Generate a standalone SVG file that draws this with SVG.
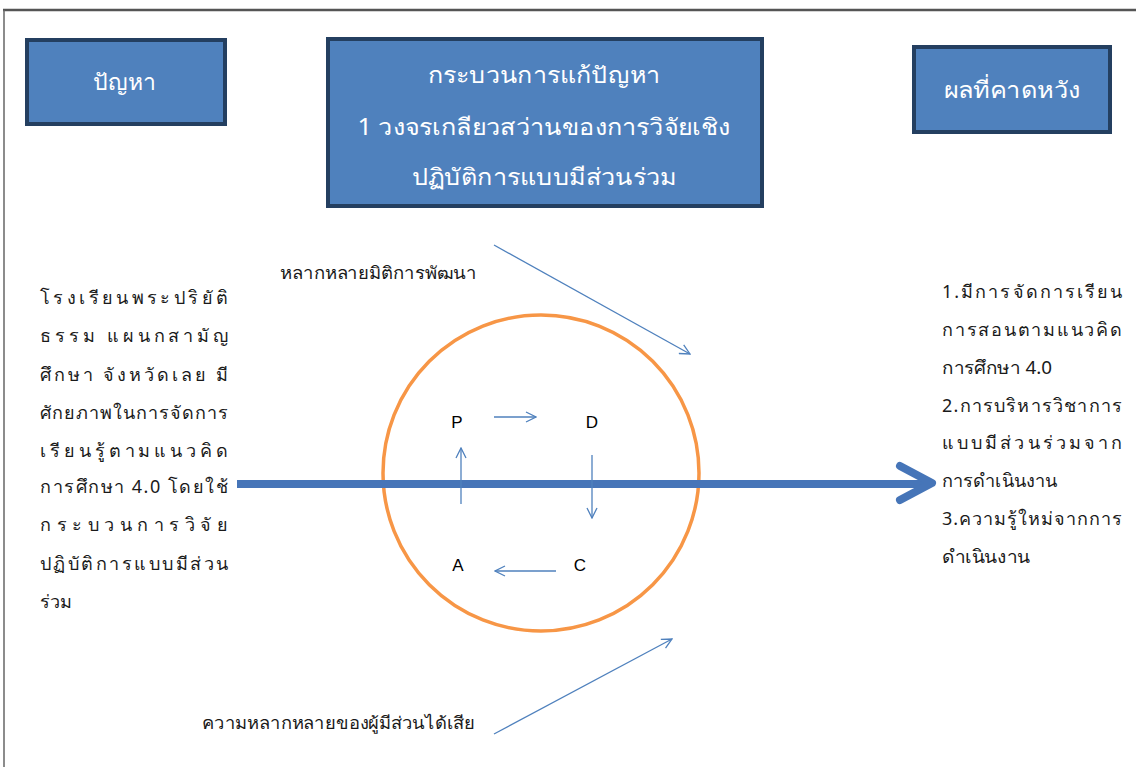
<svg xmlns="http://www.w3.org/2000/svg" width="1136" height="767" viewBox="0 0 1136 767">
<defs>
<style>
.box{fill:#4f81bd;stroke:#243f60;stroke-width:4}
.bt{font-family:"Noto Sans",sans-serif;font-size:23px;fill:#ffffff;text-anchor:middle}
.tx{font-family:"Noto Sans",sans-serif;font-size:18px;fill:#1a1a1a}
.lb{font-family:"Noto Sans",sans-serif;font-size:17px;fill:#1a1a1a}
.lt{font-family:"Liberation Sans",sans-serif;font-size:17px;fill:#000000;text-anchor:middle}
.thin{fill:none;stroke:#4f81bd;stroke-width:1.3}
</style>
<marker id="ah" viewBox="0 0 12 12" refX="11" refY="6" markerWidth="12" markerHeight="12" markerUnits="userSpaceOnUse" orient="auto">
<path d="M1,1 L11,6 L1,11" fill="none" stroke="#4f81bd" stroke-width="1.3"/>
</marker>
</defs>
<rect width="1136" height="767" fill="#ffffff"/>
<g id="frame">
<line x1="3" y1="10" x2="1136" y2="10" stroke="#555555" stroke-width="2.5"/>
<line x1="4" y1="10" x2="4" y2="767" stroke="#666666" stroke-width="1.5"/>
</g>
<g id="node-problem">
<rect class="box" x="27" y="40" width="198" height="84"/>
<text class="bt" x="124" y="90">ปัญหา</text>
</g>
<g id="node-process">
<rect class="box" x="328" y="39" width="434" height="167"/>
<text class="bt" x="544" y="83" textLength="232" lengthAdjust="spacingAndGlyphs">กระบวนการแก้ปัญหา</text>
<text class="bt" x="544" y="135" textLength="373" lengthAdjust="spacingAndGlyphs">1 วงจรเกลียวสว่านของการวิจัยเชิง</text>
<text class="bt" x="544" y="185" textLength="265" lengthAdjust="spacingAndGlyphs">ปฏิบัติการแบบมีส่วนร่วม</text>
</g>
<g id="node-result">
<rect class="box" x="914" y="47" width="196" height="85"/>
<text class="bt" x="1012" y="98" textLength="137" lengthAdjust="spacingAndGlyphs">ผลที่คาดหวัง</text>
</g>
<g id="node-left-text">
<text class="tx" x="40" y="304" textLength="188" lengthAdjust="spacing">โรงเรียนพระปริยัติ</text>
<text class="tx" x="40" y="342" textLength="188" lengthAdjust="spacing">ธรรม แผนกสามัญ</text>
<text class="tx" x="40" y="381" textLength="188" lengthAdjust="spacing">ศึกษา จังหวัดเลย มี</text>
<text class="tx" x="40" y="419" textLength="188" lengthAdjust="spacing">ศักยภาพในการจัดการ</text>
<text class="tx" x="40" y="457" textLength="188" lengthAdjust="spacing">เรียนรู้ตามแนวคิด</text>
<text class="tx" x="40" y="493" textLength="188" lengthAdjust="spacing">การศึกษา 4.0 โดยใช้</text>
<text class="tx" x="40" y="531" textLength="188" lengthAdjust="spacing">กระบวนการวิจัย</text>
<text class="tx" x="40" y="570" textLength="188" lengthAdjust="spacing">ปฏิบัติการแบบมีส่วน</text>
<text class="tx" x="40" y="608">ร่วม</text>
</g>
<g id="node-right-text">
<text class="tx" x="942" y="298" textLength="180" lengthAdjust="spacing">1.มีการจัดการเรียน</text>
<text class="tx" x="942" y="336" textLength="180" lengthAdjust="spacing">การสอนตามแนวคิด</text>
<text class="tx" x="942" y="374" textLength="110" lengthAdjust="spacingAndGlyphs">การศึกษา 4.0</text>
<text class="tx" x="942" y="412" textLength="180" lengthAdjust="spacing">2.การบริหารวิชาการ</text>
<text class="tx" x="942" y="449" textLength="180" lengthAdjust="spacing">แบบมีส่วนร่วมจาก</text>
<text class="tx" x="942" y="487" textLength="115" lengthAdjust="spacingAndGlyphs">การดำเนินงาน</text>
<text class="tx" x="942" y="525" textLength="180" lengthAdjust="spacing">3.ความรู้ใหม่จากการ</text>
<text class="tx" x="942" y="563" textLength="88" lengthAdjust="spacingAndGlyphs">ดำเนินงาน</text>
</g>
<g id="node-cycle">
<circle cx="541" cy="473" r="158" fill="none" stroke="#f79646" stroke-width="3.5"/>
<text class="lt" x="457" y="428">P</text>
<text class="lt" x="592" y="428">D</text>
<text class="lt" x="580" y="571">C</text>
<text class="lt" x="458" y="571">A</text>
</g>
<g id="node-label-top">
<text class="lb" x="280" y="279" textLength="197" lengthAdjust="spacingAndGlyphs">หลากหลายมิติการพัฒนา</text>
</g>
<g id="node-label-bottom">
<text class="lb" x="202" y="729" textLength="273" lengthAdjust="spacingAndGlyphs">ความหลากหลายของผู้มีส่วนได้เสีย</text>
</g>
<g id="connectors">
<line x1="237" y1="484" x2="928" y2="484" stroke="#4675b8" stroke-width="8"/>
<path d="M900,466 L932,483 L900,500" fill="none" stroke="#4675b8" stroke-width="8" stroke-linejoin="round" stroke-linecap="round"/>
<line class="thin" x1="494" y1="417" x2="536" y2="417" marker-end="url(#ah)"/>
<line class="thin" x1="592" y1="455" x2="592" y2="518" marker-end="url(#ah)"/>
<line class="thin" x1="556" y1="571" x2="495" y2="571" marker-end="url(#ah)"/>
<line class="thin" x1="461" y1="504" x2="461" y2="448" marker-end="url(#ah)"/>
<line class="thin" x1="494" y1="245" x2="690" y2="354" marker-end="url(#ah)"/>
<line class="thin" x1="494" y1="734" x2="672" y2="639" marker-end="url(#ah)"/>
</g>
</svg>
